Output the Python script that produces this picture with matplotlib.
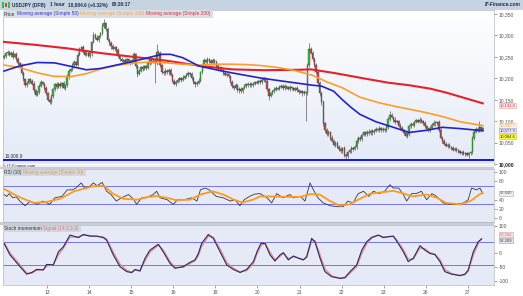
import matplotlib
matplotlib.use('Agg')
import matplotlib.pyplot as plt
import numpy as np
from matplotlib.patches import Rectangle
from matplotlib.colors import LinearSegmentedColormap
import matplotlib.transforms as mtransforms

plt.rcParams['font.family'] = ['Liberation Sans', 'DejaVu Sans']

# hourly closes, one row per trading day (12th .. 27th June)
closes = [
    10252, 10258, 10262, 10255, 10260, 10250, 10256, 10245, 10235, 10230, 10212, 10198,
    10185, 10190, 10198, 10195, 10188, 10172, 10162, 10168, 10182, 10192, 10188, 10178,
    10165, 10150, 10145, 10158, 10175, 10186, 10180, 10188, 10182, 10190, 10178, 10185,
    10205, 10218, 10222, 10230, 10238, 10232, 10255, 10268, 10272, 10262, 10255, 10260,
    10252, 10258, 10285, 10302, 10295, 10290, 10298, 10305, 10322, 10328, 10315, 10290,
    10282, 10275, 10268, 10272, 10265, 10252, 10245, 10240, 10242, 10238, 10244, 10240,
    10236, 10242, 10256, 10228, 10210, 10218, 10226, 10222, 10228, 10224, 10236, 10242,
    10238, 10240, 10235, 10262, 10258, 10230, 10215, 10212, 10218, 10214, 10220, 10208,
    10195, 10188, 10192, 10196, 10200, 10196, 10202, 10205, 10208, 10212, 10210, 10200,
    10192, 10186, 10190, 10195, 10215, 10228, 10242, 10238, 10245, 10240, 10236, 10243,
    10238, 10228, 10222, 10225, 10220, 10212, 10208, 10210, 10205, 10192, 10182, 10178,
    10185, 10172, 10176, 10170, 10178, 10182, 10186, 10184, 10188, 10185, 10188, 10192,
    10190, 10194, 10191, 10196, 10200, 10195, 10175, 10160, 10165, 10170, 10174, 10178,
    10176, 10180, 10183, 10178, 10182, 10179, 10176, 10180, 10177, 10174, 10178, 10172,
    10168, 10170, 10165, 10168, 10165, 10230, 10268, 10260, 10245, 10230, 10215, 10190,
    10165, 10145, 10095, 10080, 10070, 10075, 10062, 10055, 10045, 10050, 10040, 10035,
    10030, 10038, 10022, 10018, 10028, 10032, 10038, 10035, 10040, 10055, 10062, 10058,
    10068, 10074, 10070, 10076, 10072, 10078, 10074, 10078, 10082, 10080, 10084, 10079,
    10082, 10080, 10086, 10105, 10115, 10110, 10104, 10098, 10100, 10090, 10084, 10080,
    10072, 10066, 10070, 10088, 10094, 10092, 10098, 10102, 10099, 10104, 10100, 10096,
    10088, 10082, 10080, 10085, 10092, 10097, 10095, 10098, 10080, 10062, 10055, 10048,
    10042, 10045, 10040, 10038, 10034, 10036, 10032, 10030, 10026, 10028, 10024, 10026,
    10022, 10025, 10028, 10060, 10076, 10082, 10078, 10086, 10080, 10084.6,
]
first_open = 10248

wick_hi = [
    4, 3, 5, 2, 4, 6, 3, 5, 4, 3, 6, 4, 3, 5, 2, 4, 3, 6, 4, 3, 5, 4, 2, 3,
    5, 3, 4, 6, 3, 4, 5, 3, 4, 2, 5, 3, 6, 4, 3, 5, 4, 3, 6, 4, 3, 5, 4, 3,
    4, 5, 3, 6, 4, 5, 3, 4, 6, 10, 4, 5, 3, 4, 6, 3, 4, 5, 3, 4, 2, 5, 3, 4,
    3, 4, 5, 3, 6, 4, 3, 5, 4, 3, 4, 5, 3, 4, 6, 18, 4, 5, 3, 4, 5, 3, 4, 3,
    4, 3, 5, 4, 3, 4, 5, 3, 4, 6, 3, 4, 5, 3, 4, 6, 3, 4, 5, 3, 4, 3, 5, 4,
    3, 4, 5, 3, 4, 3, 5, 4, 3, 4, 5, 3, 4, 3, 5, 4, 3, 4, 3, 5, 4, 3, 4, 3,
    4, 3, 5, 4, 3, 4, 5, 3, 4, 3, 5, 4, 3, 4, 3, 5, 4, 3, 4, 5, 3, 4, 3, 4,
    3, 4, 3, 4, 3, 6, 15, 5, 4, 5, 6, 4, 5, 6, 5, 4, 5, 4, 3, 5, 4, 3, 4, 5,
    4, 3, 5, 4, 3, 4, 5, 3, 4, 5, 3, 4, 5, 3, 4, 3, 5, 4, 3, 4, 5, 3, 4, 3,
    4, 3, 5, 4, 10, 4, 3, 5, 4, 3, 5, 4, 3, 5, 4, 3, 4, 5, 3, 4, 3, 5, 4, 3,
    4, 3, 5, 4, 3, 5, 4, 3, 5, 4, 3, 4, 3, 5, 4, 3, 4, 3, 5, 3, 4, 3, 4, 3,
    3, 4, 3, 5, 6, 4, 5, 14, 4, 3,
]
wick_lo = [
    3, 5, 4, 3, 6, 4, 3, 5, 4, 6, 4, 3, 5, 4, 3, 5, 4, 6, 3, 4, 5, 3, 4, 5,
    4, 3, 5, 4, 3, 5, 4, 3, 5, 4, 3, 5, 4, 6, 3, 4, 5, 3, 4, 3, 5, 4, 3, 4,
    3, 4, 5, 3, 4, 3, 5, 4, 3, 4, 5, 3, 4, 6, 3, 4, 5, 3, 4, 3, 5, 4, 3, 4,
    4, 3, 5, 4, 6, 3, 4, 5, 3, 4, 3, 5, 4, 3, 45, 4, 5, 3, 4, 5, 3, 4, 5, 3,
    3, 4, 5, 3, 4, 5, 3, 4, 3, 5, 4, 3, 4, 5, 3, 4, 3, 5, 4, 3, 4, 5, 3, 4,
    4, 3, 4, 5, 3, 4, 3, 5, 4, 3, 5, 4, 3, 4, 5, 3, 4, 3, 5, 4, 3, 4, 5, 3,
    3, 4, 3, 5, 4, 3, 4, 10, 4, 3, 5, 4, 3, 4, 3, 5, 4, 3, 4, 5, 3, 4, 3, 4,
    4, 3, 5, 4, 65, 4, 3, 4, 5, 4, 5, 6, 5, 6, 5, 4, 5, 4, 5, 4, 3, 4, 3, 4,
    4, 3, 5, 9.1, 4, 3, 5, 4, 3, 4, 5, 3, 4, 3, 5, 4, 3, 4, 5, 3, 4, 3, 5, 4,
    3, 4, 5, 3, 4, 3, 5, 4, 3, 4, 5, 3, 4, 3, 5, 4, 3, 4, 5, 3, 4, 3, 4, 5,
    4, 3, 5, 4, 3, 4, 5, 3, 4, 3, 5, 4, 3, 4, 3, 5, 4, 3, 4, 5, 3, 4, 3, 4,
    3, 7, 4, 5, 3, 4, 3, 4, 5, 3,
]
lowest = 10008.9

# moving averages (bar index, price)
sma50_x = [0, 9, 19, 29, 38, 47, 55, 64, 74, 83, 90, 95, 102, 111, 121, 131, 146, 158,
           167, 176, 181, 188, 193, 198, 203, 212, 222, 231, 241, 250, 260, 273]
sma50 = [10217, 10229, 10237, 10236, 10228, 10220, 10223, 10231, 10240, 10249, 10256,
         10256, 10248, 10229, 10220, 10212, 10201, 10194, 10189, 10184, 10182, 10170,
         10150, 10132, 10116, 10099, 10086, 10074, 10079, 10086, 10083, 10078]
sma100_x = [0, 9, 19, 28, 38, 47, 55, 64, 74, 83, 93, 102, 112, 121, 130, 139, 146, 155,
            165, 176, 184, 193, 203, 214, 224, 241, 251, 260, 273]
sma100 = [10231, 10225, 10213, 10205, 10204, 10211, 10222, 10230, 10236, 10238, 10236,
          10233, 10231, 10233, 10233, 10232, 10230, 10226, 10219, 10207, 10192, 10178,
          10156, 10143, 10134, 10120, 10110, 10099, 10090]
sma200_x = [0, 18, 36, 55, 74, 93, 112, 130, 148, 168, 175, 189, 205, 219, 231, 243, 252,
            262, 273]
sma200 = [10285, 10278, 10270, 10259, 10250, 10241, 10229, 10221, 10219, 10220, 10221,
          10212, 10200, 10190, 10184, 10176, 10167, 10155, 10141.8]

# RSI (10) and its simple 10 average
rsi_x = [0, 1.5, 3, 5, 7, 9, 12, 15, 17, 19, 22, 24, 26, 29, 33, 36, 39, 41, 44, 46, 49,
         51, 53, 56, 58.5, 61, 64, 67, 71, 74, 75.6, 78.5, 81, 85, 87, 89, 93, 96.5, 99,
         103, 107, 110, 112, 114.6, 117, 121, 125, 129, 131.7, 134.5, 137, 140, 143, 146,
         150, 152.6, 155.5, 159, 163, 165, 169, 171.6, 174.5, 176.4, 179, 182, 186, 190,
         193.5, 196, 199, 202, 205, 208, 210.6, 214, 217, 220, 222, 225, 227.7, 229.6,
         232.4, 235, 238, 241, 244, 246.7, 250.5, 254, 258, 262, 264.7, 266.6, 269.5,
         271.4, 273]
rsi = [51, 47, 53, 44, 46, 37, 27, 37, 33, 30, 37, 34, 30, 44, 47, 61, 61, 65, 76, 65, 69,
       76, 70, 77, 58, 51, 37, 44, 51, 40, 30, 44, 44, 51, 58, 44, 40, 30, 40,
       40, 44, 37, 61, 65, 61, 47, 44, 37, 40, 27, 40, 47, 52, 53,
       44, 33, 53, 44, 51, 44, 47, 37, 76, 61, 44, 33, 27, 25,
       25, 37, 33, 53, 58, 47, 58, 53, 58, 72, 65, 65, 51, 37,
       53, 53, 58, 40, 53, 47, 33, 30, 30, 33, 40, 65, 61,
       65, 52.6]
rsi_ma_x = [0, 6, 9, 17, 24, 32, 40, 45, 51, 57, 62, 68, 76, 81, 87, 93, 98, 106, 112,
            119, 125, 131, 136, 142, 146, 153, 161, 169, 174.5, 180, 186, 191.5, 197, 203,
            209, 214, 222, 228, 233, 241, 247, 252, 260, 266, 271, 273]
rsi_ma = [63, 51, 45, 33, 35, 42, 58, 63, 69, 70, 53, 42, 40, 45, 48, 44, 39, 40, 51,
          58, 51, 40, 34, 40, 47, 47, 46, 46, 52, 51, 37, 27, 30, 42,
          53, 55, 59, 53, 47, 51, 44, 33, 30, 37, 51, 55]

# Stochastic momentum and signal (14,3,3,3)
stoch_x = [0, 3.4, 9.1, 12.9, 15.8, 18.6, 22.4, 24.3, 28.1, 31, 33.8, 37.6, 42.4, 45.2,
           49, 52.8, 56.6, 58.5, 62.3, 66.1, 70, 72.8, 74.7, 77.5, 80.4, 83.2, 88, 90.8,
           94.6, 97.5, 102.2, 106, 108.9, 110.8, 112.7, 116.5, 119.4, 123.2, 127, 130.8,
           134.6, 138.4, 142.2, 144.5, 146.5, 148.8, 151.7, 154.5, 157.4, 159.3, 162.1,
           165, 167.8, 170.7, 172.6, 175.4, 177.3, 180.2, 183, 186.8, 191.6, 194.4, 197.3,
           201.1, 204, 206.8, 209.7, 213.4, 216.3, 219.1, 222, 224.8, 227.7, 230.5, 233.4,
           237.2, 240, 242.9, 245.7, 248.6, 251.4, 255.2, 260, 262.8, 264.7, 267.6, 270.4,
           272.3]
stoch = [36, -5, -47, -74, -68, -57, -59, -39, -41, 6, 24, 66, 57, 68,
         62, 62, 57, 48, -5, -47, -65, -68, -57, -63, -17, 12, 33, 6,
         -35, -53, -47, -32, -23, 0, 36, 68, 54, 6, -41, -57,
         -68, -57, -29, 10, 36, 36, -5, -27, -5, 3, -23,
         -9, -17, -23, -11, 54, 42, -17, -65, -83, -89, -86, -65,
         -41, 12, 42, 58, 66, 57, 60, 62, 36, 6, -29, -17,
         28, 12, 0, -4, -29, -65, -74, -79, -74, -59, 6, 42,
         52.2]
signal = [40, 2, -40, -70, -71, -60, -58, -45, -40, -5, 18, 58, 60, 66,
          64, 62, 59, 52, 5, -38, -60, -68, -60, -61, -27, 5, 30, 12,
          -28, -50, -49, -36, -26, -8, 26, 62, 58, 16, -32, -53,
          -66, -61, -36, 2, 28, 38, 4, -22, -10, 0, -18,
          -12, -15, -22, -14, 44, 46, -5, -55, -80, -89, -88, -70,
          -48, 0, 35, 55, 65, 59, 60, 62, 42, 14, -20, -20,
          20, 17, 3, -2, -22, -57, -72, -79, -76, -64, -6, 35,
          53.3]

day_labels = ['13', '14', '15', '16', '19', '20', '21', '22', '23', '26', '27']
price_ticks = [10000, 10050, 10100, 10150, 10200, 10250, 10300, 10350]

W, H = 523, 296
fig = plt.figure(figsize=(W / 100, H / 100), dpi=100)
fig.patch.set_facecolor('white')
renderer = fig.canvas.get_renderer()


def axes_px(x0, y0, x1, y1):
    return fig.add_axes([x0 / W, 1 - y1 / H, (x1 - x0) / W, (y1 - y0) / H])


def rect_px(x0, y0, x1, y1, color, z=0):
    fig.add_artist(Rectangle((x0 / W, 1 - y1 / H), (x1 - x0) / W, (y1 - y0) / H,
                             transform=fig.transFigure, facecolor=color,
                             edgecolor='none', zorder=z))


def text_px(x, y, s, **kw):
    kw.setdefault('fontsize', 3.6)
    kw.setdefault('va', 'center')
    return fig.text(x / W, 1 - y / H, s, **kw)


def chain_px(x, y, parts, gap=1.5, **kw):
    # write coloured pieces one after another, return the end x
    for s, col in parts:
        t = text_px(x, y, s, color=col, **kw)
        x += t.get_window_extent(renderer=renderer).width + gap
    return x


def style_axes(ax, ylim, yticks, ylabels):
    ax.set_xlim(-0.6, 279.4)
    ax.set_ylim(*ylim)
    ax.yaxis.tick_right()
    ax.set_yticks(yticks)
    ax.set_yticklabels(ylabels)
    ax.tick_params(axis='y', length=2, width=0.4, pad=1.5, labelsize=3.6,
                   colors='#555555')
    ax.set_xticks([])
    for s in ax.spines.values():
        s.set_color('#b4b8c2')
        s.set_linewidth(0.5)


def value_box(ax, y, s, fc, tc, ec):
    tr = mtransforms.blended_transform_factory(ax.transAxes, ax.transData)
    ax.text(1.012, y, s, transform=tr, fontsize=3.0, color=tc, va='center', ha='left',
            bbox=dict(boxstyle='square,pad=0.12', fc=fc, ec=ec, lw=0.4), zorder=10,
            clip_on=False)


# ---- main price panel ----
ax = axes_px(3, 10, 494, 164.5)
grad = np.linspace(0, 1, 64).reshape(-1, 1)
ax.imshow(grad, extent=[0, 1, 0, 1], transform=ax.transAxes, origin='lower',
          cmap=LinearSegmentedColormap.from_list('bg', ['#e4ebf7', '#ffffff']),
          aspect='auto', zorder=0)

c = np.array(closes, dtype=float)
x = np.arange(len(c))
o = np.r_[first_open, c[:-1]]
up = c >= o
body_lo = np.minimum(o, c)
body_h = np.maximum(np.abs(c - o), 0.9)
highs = np.maximum(o, c) + np.array(wick_hi)
lows = body_lo - np.array(wick_lo)

ax.vlines(x, lows, highs, color='#4a4a4a', lw=0.45, zorder=2)
ax.bar(x, body_h, bottom=body_lo, width=0.8,
       color=np.where(up, '#3cbd3c', '#c0504d'), edgecolor='#333333',
       linewidth=0.25, zorder=3)

ax.plot(sma200_x, sma200, color='#e8202a', lw=1.5, zorder=4)
ax.plot(sma100_x, sma100, color='#ff9c2a', lw=1.2, zorder=4)
ax.plot(sma50_x, sma50, color='#2323c8', lw=1.2, zorder=4)
ax.axhline(lowest, color='#1515e6', lw=1.4, zorder=5)
ax.text(0.5, lowest + 7, '10,008.9', fontsize=3.4, color='#333333', zorder=6)

style_axes(ax, (9999.3, 10359.3), price_ticks, [f'{v:,}' for v in price_ticks])
ax.get_yticklabels()[0].set_fontweight('bold')
ax.get_yticklabels()[0].set_color('#222222')
ax.spines['bottom'].set_visible(False)

value_box(ax, 10136.5, '10,141.8', '#fbe9e9', '#e03030', '#e8a0a0')
value_box(ax, 10090.5, '10,090.7', '#fdf3e6', '#f0a040', '#f0c890')
value_box(ax, 10077.5, '10,077.9', '#e9e9fb', '#3030c0', '#a0a0e0')
value_box(ax, 10064.5, '10,084.6', '#ffff40', '#222222', '#c8c800')

# ---- RSI panel ----
ax2 = axes_px(3, 169, 494, 222)
ax2.set_facecolor('#e6eaf7')
ax2.axhline(70, color='#7474ee', lw=0.7)
ax2.axhline(30, color='#7474ee', lw=0.7)
ax2.plot(rsi_x, rsi, color='#383838', lw=0.6)
ax2.plot(rsi_ma_x, rsi_ma, color='#ff9a1a', lw=1.3)
style_axes(ax2, (-7.9, 105.8), [0, 20, 40, 80, 100], ['0', '20', '40', '80', '100'])
value_box(ax2, 54.3, '52.640', '#eeeeee', '#555555', '#aaaaaa')

# ---- Stochastic momentum panel ----
ax3 = axes_px(3, 225, 494, 284.5)
ax3.set_facecolor('#e6eaf7')
ax3.axhline(40, color='#7474ee', lw=0.7)
ax3.axhline(-40, color='#7474ee', lw=0.7)
ax3.plot(stoch_x, signal, color='#ec8c8c', lw=1.0)
ax3.plot(stoch_x, stoch, color='#1f2a66', lw=0.8)
style_axes(ax3, (-111, 102), [-100, -50, 0, 100], ['-100', '-50', '0', '100'])
ax3.set_xticks([24.5 + 24 * k for k in range(len(day_labels))])
ax3.set_xticklabels(day_labels)
ax3.tick_params(axis='x', length=2, width=0.4, pad=2, labelsize=3.6, colors='#555555')
value_box(ax3, 67, '53.284', '#f6e4e4', '#e07070', '#d0a0a0')
value_box(ax3, 45, '52.209', '#e4e6ee', '#333333', '#a0a4b0')

# ---- header strips and captions ----
rect_px(0, 0, 523, 10, '#c6d4e1', z=-1)
rect_px(0, 9.5, 523, 10, '#9fb2c4', z=-1)
rect_px(2, 2, 4, 8, '#3cbd3c', z=5)
rect_px(5, 3, 7, 7, '#c0504d', z=5)
rect_px(8, 1.5, 10, 8, '#3cbd3c', z=5)
chain_px(12, 5, [('USDJPY (DFB)', '#1c2c50'), ('1 hour', '#1c2c50'),
                 ('10,084.6 (+0.32%)', '#1c2c50'), ('00:26:17', '#1c2c50')],
         gap=4, fontweight='bold', fontsize=3.4)
text_px(521, 5, 'IT-Finance.com', color='#1c2c50', fontweight='bold', style='italic',
        fontsize=3.6, ha='right')

legend_end = chain_px(4, 14, [('Price', '#333333'),
                              ('Moving average (Simple 50)', '#3333cc'),
                              ('Moving average (Simple 100)', '#f4a850'),
                              ('Moving average (Simple 200)', '#e03030')],
                      fontsize=3.5, zorder=6)
rect_px(3, 10.5, legend_end + 1, 17.5, '#d9dee7', z=5)

rect_px(0, 164.5, 494, 167.5, '#eef0f5', z=-1)
rect_px(0, 167, 494, 169, '#c9cdd6', z=-1)
text_px(3, 165.6, '© IT-Finance.com', color='#333333', fontsize=3.0)
rsi_end = chain_px(4, 172.8, [('RSI (10)', '#333333'),
                              ('Moving average (Simple 10)', '#f09a30')],
                   fontsize=3.4, zorder=6)
rect_px(3, 169.5, rsi_end + 1, 176, '#d3d7e0', z=5)

rect_px(0, 222, 494, 225, '#c9cdd6', z=-1)
st_end = chain_px(4, 228.8, [('Stoch momentum', '#333333'),
                             ('Signal (14,3,3,3)', '#e07070')],
                  fontsize=3.4, zorder=6)
rect_px(3, 225.5, st_end + 1, 232, '#d3d7e0', z=5)

fig.savefig('out.png', dpi=100)
